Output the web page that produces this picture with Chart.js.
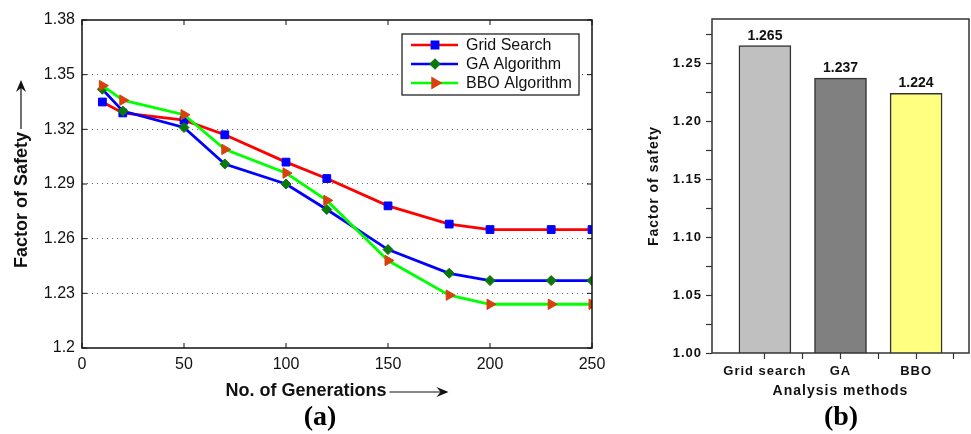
<!DOCTYPE html>
<html>
<head>
<meta charset="utf-8">
<script src="https://cdn.jsdelivr.net/npm/chart.js@4/dist/chart.umd.min.js"></script>
<style>
    body { margin: 0; background: #fff; }
    .page { position: relative; width: 971px; height: 434px; overflow: hidden; }
    #chartA { position: absolute; left: 0; top: 0; }
    #chartB { position: absolute; left: 620px; top: 0; }
    .panel_label { position: absolute; top: 402px; width: 60px; text-align: center;
        font: bold 28px "Liberation Serif", "Times New Roman", serif; line-height: 28px; color: #000; }
</style>
</head>
<body>
<div class="page">
    <canvas id="chartA" width="610" height="434"></canvas>
    <canvas id="chartB" width="351" height="434"></canvas>
    <div class="panel_label" style="left: 290px;">(a)</div>
    <div class="panel_label" style="left: 811px;">(b)</div>
</div>
<script>
// panel (a) data
const generations = [10, 20, 50, 70, 100, 120, 150, 180, 200, 230, 250];
const gridSearch = [1.335, 1.329, 1.325, 1.317, 1.302, 1.293, 1.278, 1.268, 1.265, 1.265, 1.265];
const gaAlgorithm = [1.342, 1.330, 1.321, 1.301, 1.290, 1.276, 1.254, 1.241, 1.237, 1.237, 1.237];
const bboAlgorithm = [1.344, 1.336, 1.328, 1.309, 1.296, 1.281, 1.248, 1.229, 1.224, 1.224, 1.224];
const seriesNames = ['Grid Search', 'GA Algorithm', 'BBO Algorithm'];
const xTicksA = [0, 50, 100, 150, 200, 250];
const yTicksA = [1.2, 1.23, 1.26, 1.29, 1.32, 1.35, 1.38];

// panel (b) data
const methods = ['Grid search', 'GA', 'BBO'];
const safetyFactor = [1.265, 1.237, 1.224];
const yTicksB = [1.00, 1.05, 1.10, 1.15, 1.20, 1.25];

const sans = '"Liberation Sans", Arial, Helvetica, sans-serif';
Chart.defaults.font.family = sans;
Chart.defaults.color = '#111';

const toPoints = (values) => generations.map((x, i) => ({ x: x, y: values[i] }));

const drawArrow = (ctx, x1, y1, x2, y2) => {
    let angle = Math.atan2(y2 - y1, x2 - x1);
    ctx.save();
    ctx.strokeStyle = '#111';
    ctx.fillStyle = '#111';
    ctx.lineWidth = 1.2;
    ctx.beginPath();
    ctx.moveTo(x1, y1);
    ctx.lineTo(x2 - 6 * Math.cos(angle), y2 - 6 * Math.sin(angle));
    ctx.stroke();
    ctx.translate(x2, y2);
    ctx.rotate(angle);
    ctx.beginPath();
    ctx.moveTo(0, 0);
    ctx.lineTo(-12, -5);
    ctx.lineTo(-8, 0);
    ctx.lineTo(-12, 5);
    ctx.closePath();
    ctx.fill();
    ctx.restore();
};

// frame, inward ticks, titles with arrows and boxed legend for panel (a)
const matlabFrame = {
    id: 'matlabFrame',
    afterDraw(chart) {
        const { ctx, chartArea: { top, bottom, left, right } } = chart;
        const xScale = chart.scales.x;
        const yScale = chart.scales.y;
        ctx.save();
        ctx.strokeStyle = '#111';
        ctx.lineWidth = 1.5;
        ctx.strokeRect(left, top, right - left, bottom - top);

        ctx.lineWidth = 1;
        xScale.ticks.forEach(t => {
            let px = xScale.getPixelForValue(t.value);
            ctx.beginPath();
            ctx.moveTo(px, bottom); ctx.lineTo(px, bottom - 5);
            ctx.moveTo(px, top); ctx.lineTo(px, top + 5);
            ctx.stroke();
        });
        yScale.ticks.forEach(t => {
            let py = yScale.getPixelForValue(t.value);
            ctx.beginPath();
            ctx.moveTo(left, py); ctx.lineTo(left + 5, py);
            ctx.moveTo(right, py); ctx.lineTo(right - 5, py);
            ctx.stroke();
        });

        // axis titles
        ctx.font = 'bold 18px ' + sans;
        ctx.fillStyle = '#111';
        ctx.textAlign = 'center';
        ctx.textBaseline = 'middle';
        let xTitle = 'No. of Generations';
        let w = ctx.measureText(xTitle).width;
        let cx = left + 224;
        ctx.fillText(xTitle, cx, 391);
        drawArrow(ctx, cx + w / 2 + 3, 392, cx + w / 2 + 62, 392);

        let yTitle = 'Factor of Safety';
        let h = ctx.measureText(yTitle).width;
        let cy = top + 180;
        ctx.save();
        ctx.translate(22, cy);
        ctx.rotate(-Math.PI / 2);
        ctx.fillText(yTitle, 0, 0);
        ctx.restore();
        drawArrow(ctx, 21, cy - h / 2 - 3, 21, cy - h / 2 - 52);

        // legend box
        let boxW = 177, boxH = 61;
        let bx = right - 13 - boxW, by = top + 14;
        ctx.fillStyle = '#fff';
        ctx.fillRect(bx, by, boxW, boxH);
        ctx.strokeStyle = '#111';
        ctx.lineWidth = 1.2;
        ctx.strokeRect(bx, by, boxW, boxH);
        ctx.font = '16px ' + sans;
        ctx.textAlign = 'left';
        chart.data.datasets.forEach((ds, i) => {
            let ry = by + 11 + i * 19;
            ctx.strokeStyle = ds.borderColor;
            ctx.lineWidth = 2.5;
            ctx.beginPath();
            ctx.moveTo(bx + 9, ry); ctx.lineTo(bx + 56, ry);
            ctx.stroke();
            ctx.fillStyle = ds.pointBackgroundColor;
            ctx.strokeStyle = ds.pointBorderColor;
            if (Chart.helpers && Chart.helpers.drawPoint) {
                Chart.helpers.drawPoint(ctx, {
                    pointStyle: ds.pointStyle,
                    rotation: ds.pointRotation || 0,
                    radius: ds.pointRadius - 1,
                    borderWidth: 1
                }, bx + 33, ry);
            }
            ctx.fillStyle = '#111';
            ctx.fillText(ds.label, bx + 64, ry + 1);
        });
        ctx.restore();
    }
};

const lineDataset = (label, values, color, marker, markerColor, radius, rotation, order) => ({
    label: label,
    data: toPoints(values),
    borderColor: color,
    backgroundColor: color,
    borderWidth: 2.8,
    tension: 0,
    pointStyle: marker,
    pointRadius: radius,
    pointRotation: rotation,
    pointBackgroundColor: markerColor,
    pointBorderColor: markerColor,
    pointBorderWidth: 1,
    order: order
});

const chartA = new Chart(document.getElementById('chartA'), {
    type: 'line',
    data: {
        datasets: [
            lineDataset(seriesNames[0], gridSearch, '#ff0000', 'rect', '#0000ff', 5.5, 0, 2),
            lineDataset(seriesNames[1], gaAlgorithm, '#0000ff', 'rectRot', '#0a780a', 5, 0, 1),
            lineDataset(seriesNames[2], bboAlgorithm, '#00ff00', 'triangle', '#d8400f', 6, 90, 0)
        ]
    },
    options: {
        responsive: false,
        animation: false,
        layout: { padding: { left: 0, right: 18, top: 20, bottom: 0 } },
        scales: {
            x: {
                type: 'linear',
                min: 0,
                max: 250,
                afterBuildTicks: (scale) => { scale.ticks = xTicksA.map(v => ({ value: v })); },
                afterFit: (scale) => { scale.height = 86; },
                grid: { display: false },
                border: { display: false },
                ticks: { font: { size: 16 }, color: '#111', padding: -1 }
            },
            y: {
                min: 1.2,
                max: 1.38,
                afterBuildTicks: (scale) => { scale.ticks = yTicksA.map(v => ({ value: v })); },
                afterFit: (scale) => { scale.width = 82; },
                grid: {
                    drawTicks: false,
                    color: (c) => (c.index == 0 || c.index == yTicksA.length - 1) ? 'transparent' : '#666',
                    lineWidth: 1
                },
                border: { display: false, dash: [1, 4] },
                ticks: {
                    font: { size: 16 },
                    color: '#111',
                    padding: 7,
                    callback: (v) => String(Number(v.toFixed(2)))
                }
            }
        },
        plugins: {
            legend: { display: false },
            tooltip: { enabled: false }
        }
    },
    plugins: [matlabFrame]
});

// frame, value labels and spaced lettering for panel (b)
const originFrame = {
    id: 'originFrame',
    beforeDraw(chart) {
        chart.ctx.letterSpacing = '1px';
    },
    afterDatasetsDraw(chart) {
        const { ctx } = chart;
        const meta = chart.getDatasetMeta(0);
        ctx.save();
        ctx.letterSpacing = '0px';
        ctx.font = 'bold 14px ' + sans;
        ctx.fillStyle = '#111';
        ctx.textAlign = 'center';
        ctx.textBaseline = 'bottom';
        meta.data.forEach((bar, i) => {
            ctx.fillText(safetyFactor[i].toFixed(3), bar.x, bar.y - 3);
        });
        ctx.restore();
    },
    afterDraw(chart) {
        const { ctx, chartArea: { top, bottom, left, right } } = chart;
        ctx.save();
        ctx.strokeStyle = '#333';
        ctx.lineWidth = 1.5;
        ctx.strokeRect(left, top, right - left, bottom - top);
        ctx.restore();
    }
};

const chartB = new Chart(document.getElementById('chartB'), {
    type: 'bar',
    data: {
        datasets: [{
            label: 'Factor of safety',
            data: methods.map((m, i) => ({ x: i + 1, y: safetyFactor[i] })),
            backgroundColor: ['#c0c0c0', '#808080', '#ffff80'],
            borderColor: '#333',
            borderWidth: 1.5,
            barThickness: 52
        }]
    },
    options: {
        responsive: false,
        animation: false,
        layout: { padding: { left: 0, right: 2, top: 19, bottom: 0 } },
        scales: {
            x: {
                type: 'linear',
                min: 0.3,
                max: 3.7,
                offset: false,
                afterBuildTicks: (scale) => { scale.ticks = [1, 1.5, 2, 2.5, 3, 3.5].map(v => ({ value: v })); },
                afterFit: (scale) => { scale.height = 81; },
                grid: { drawOnChartArea: false, offset: false, tickLength: 6, color: '#333', tickWidth: 1.2 },
                border: { display: false },
                ticks: {
                    font: { size: 13, weight: 'bold' },
                    color: '#111',
                    padding: 5,
                    maxRotation: 0,
                    autoSkip: false,
                    callback: (v) => Number.isInteger(v) ? methods[v - 1] : ''
                },
                title: {
                    display: true,
                    text: 'Analysis methods',
                    font: { size: 14, weight: 'bold' },
                    color: '#111',
                    padding: { top: 0, bottom: 34 }
                }
            },
            y: {
                min: 1.0,
                max: 1.288,
                afterBuildTicks: (scale) => {
                    let ticks = [];
                    for (let i = 0; i < 12; i++) ticks.push({ value: 1 + i * 0.025 });
                    scale.ticks = ticks;
                },
                afterFit: (scale) => { scale.width = 92; },
                grid: { drawOnChartArea: false, tickLength: 6, color: '#333', tickWidth: 1.2 },
                border: { display: false },
                ticks: {
                    font: { size: 13, weight: 'bold' },
                    color: '#111',
                    padding: 4,
                    autoSkip: false,
                    callback: (v) => {
                        let label = yTicksB.find(t => Math.abs(t - v) < 1e-6);
                        return label === undefined ? '' : label.toFixed(2);
                    }
                },
                title: {
                    display: true,
                    text: 'Factor of safety',
                    font: { size: 14, weight: 'bold' },
                    color: '#111',
                    padding: { top: 26, bottom: 0 }
                }
            }
        },
        plugins: {
            legend: { display: false },
            tooltip: { enabled: false }
        }
    },
    plugins: [originFrame]
});
</script>
</body>
</html>
